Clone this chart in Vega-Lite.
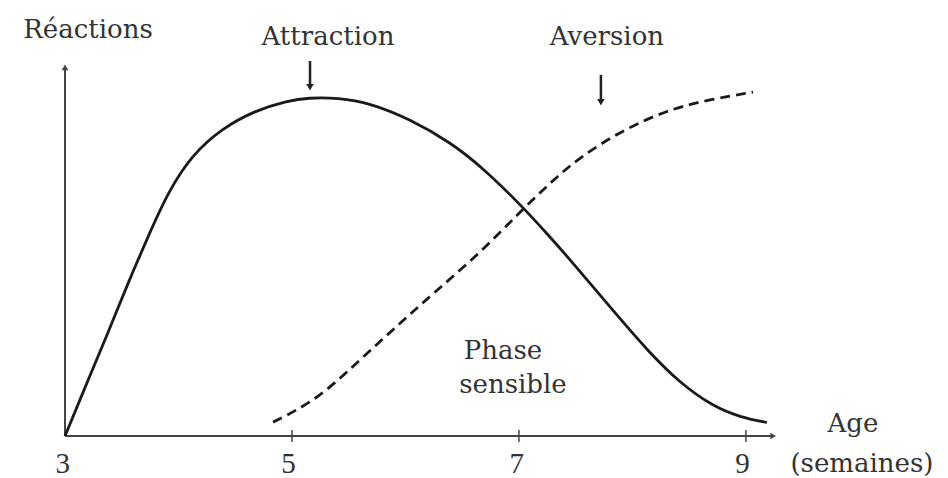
{
  "$schema": "https://vega.github.io/schema/vega-lite/v6.json",
  "width": 715,
  "height": 375,
  "autosize": {"type": "none"},
  "padding": {"left": 65, "top": 61, "right": 168, "bottom": 42},
  "background": "white",
  "config": {"view": {"stroke": null}},
  "datasets": {
    "curves": [
      {"s": "attraction", "x": 3.0, "y": 0},
      {"s": "attraction", "x": 3.203, "y": 14.9},
      {"s": "attraction", "x": 3.379, "y": 27.5},
      {"s": "attraction", "x": 3.555, "y": 40.8},
      {"s": "attraction", "x": 3.731, "y": 53.1},
      {"s": "attraction", "x": 3.907, "y": 65.0},
      {"s": "attraction", "x": 4.119, "y": 75.0},
      {"s": "attraction", "x": 4.383, "y": 82.0},
      {"s": "attraction", "x": 4.674, "y": 86.8},
      {"s": "attraction", "x": 4.965, "y": 89.4},
      {"s": "attraction", "x": 5.141, "y": 90.2},
      {"s": "attraction", "x": 5.405, "y": 90.2},
      {"s": "attraction", "x": 5.687, "y": 88.8},
      {"s": "attraction", "x": 6.04, "y": 84.5},
      {"s": "attraction", "x": 6.392, "y": 78.4},
      {"s": "attraction", "x": 6.683, "y": 71.5},
      {"s": "attraction", "x": 7.026, "y": 61.3},
      {"s": "attraction", "x": 7.273, "y": 53.1},
      {"s": "attraction", "x": 7.423, "y": 48.0},
      {"s": "attraction", "x": 7.802, "y": 34.4},
      {"s": "attraction", "x": 8.128, "y": 22.9},
      {"s": "attraction", "x": 8.419, "y": 14.1},
      {"s": "attraction", "x": 8.709, "y": 7.9},
      {"s": "attraction", "x": 8.95, "y": 5.0},
      {"s": "attraction", "x": 9.185, "y": 3.6},
      {"s": "aversion", "x": 4.833, "y": 3.7},
      {"s": "aversion", "x": 5.22, "y": 9.6},
      {"s": "aversion", "x": 5.599, "y": 20.3},
      {"s": "aversion", "x": 5.952, "y": 30.1},
      {"s": "aversion", "x": 6.278, "y": 38.9},
      {"s": "aversion", "x": 6.656, "y": 48.8},
      {"s": "aversion", "x": 6.982, "y": 58.9},
      {"s": "aversion", "x": 7.273, "y": 67.5},
      {"s": "aversion", "x": 7.537, "y": 74.4},
      {"s": "aversion", "x": 7.916, "y": 81.6},
      {"s": "aversion", "x": 8.304, "y": 86.9},
      {"s": "aversion", "x": 8.656, "y": 89.6},
      {"s": "aversion", "x": 9.062, "y": 91.7}
    ],
    "labels": [
      {"t": "Réactions", "x": 3.203, "y": 106.1},
      {"t": "Attraction", "x": 5.317, "y": 104.3},
      {"t": "Aversion", "x": 7.775, "y": 104.3},
      {"t": "Phase", "x": 6.859, "y": 20.5},
      {"t": "sensible", "x": 6.947, "y": 11.5},
      {"t": "Age", "x": 9.943, "y": 1.07},
      {"t": "(semaines)", "x": 10.022, "y": -9.6}
    ],
    "ticklabels": [
      {"t": "3", "x": 2.98, "y": -9.8},
      {"t": "5", "x": 4.97, "y": -9.8},
      {"t": "7", "x": 6.98, "y": -9.8},
      {"t": "9", "x": 8.97, "y": -9.8}
    ],
    "ticks": [
      {"x": 5, "y": 0},
      {"x": 7, "y": 0},
      {"x": 9, "y": 0}
    ],
    "axislines": [
      {"x": 3, "x2": 9.24, "y": 0, "y2": 0},
      {"x": 3, "x2": 3, "y": 0, "y2": 98.3}
    ],
    "axisheads": [
      {"x": 9.24, "y": 0, "shape": "triangle-right"},
      {"x": 3, "y": 98.3, "shape": "triangle-up"}
    ],
    "arrows": [
      {"x": 5.159, "y": 100, "y2": 93.5},
      {"x": 7.722, "y": 96.3, "y2": 89.5}
    ],
    "arrowheads": [
      {"x": 5.159, "y": 93.0},
      {"x": 7.722, "y": 89.0}
    ]
  },
  "layer": [
    {
      "data": {"name": "axislines"},
      "mark": {"type": "rule", "color": "#444", "strokeWidth": 2},
      "encoding": {
        "x": {"field": "x", "type": "quantitative", "scale": {"domain": [3, 9.3], "nice": false, "zero": false}, "axis": null},
        "x2": {"field": "x2"},
        "y": {"field": "y", "type": "quantitative", "scale": {"domain": [0, 100], "nice": false, "zero": false}, "axis": null},
        "y2": {"field": "y2"}
      }
    },
    {
      "data": {"name": "axisheads"},
      "mark": {"type": "point", "filled": true, "color": "#444", "size": 45, "opacity": 1},
      "encoding": {
        "x": {"field": "x", "type": "quantitative", "axis": null},
        "y": {"field": "y", "type": "quantitative", "axis": null},
        "shape": {"field": "shape", "type": "nominal", "scale": null, "legend": null}
      }
    },
    {
      "data": {"name": "ticks"},
      "mark": {"type": "tick", "orient": "vertical", "color": "#444", "size": 12, "thickness": 1.5, "opacity": 1},
      "encoding": {
        "x": {"field": "x", "type": "quantitative", "axis": null},
        "y": {"field": "y", "type": "quantitative", "axis": null}
      }
    },
    {
      "data": {"name": "curves"},
      "transform": [{"filter": "datum.s == 'attraction'"}],
      "mark": {"type": "line", "color": "#1a1a1a", "strokeWidth": 2.8, "interpolate": "basis"},
      "encoding": {
        "x": {"field": "x", "type": "quantitative", "axis": null},
        "y": {"field": "y", "type": "quantitative", "axis": null}
      }
    },
    {
      "data": {"name": "curves"},
      "transform": [{"filter": "datum.s == 'aversion'"}],
      "mark": {"type": "line", "color": "#1a1a1a", "strokeWidth": 2.8, "interpolate": "basis", "strokeDash": [10, 6]},
      "encoding": {
        "x": {"field": "x", "type": "quantitative", "axis": null},
        "y": {"field": "y", "type": "quantitative", "axis": null}
      }
    },
    {
      "data": {"name": "arrows"},
      "mark": {"type": "rule", "color": "#222", "strokeWidth": 2.5},
      "encoding": {
        "x": {"field": "x", "type": "quantitative", "axis": null},
        "y": {"field": "y", "type": "quantitative", "axis": null},
        "y2": {"field": "y2"}
      }
    },
    {
      "data": {"name": "arrowheads"},
      "mark": {"type": "point", "shape": "triangle-down", "filled": true, "color": "#222", "size": 55, "opacity": 1},
      "encoding": {
        "x": {"field": "x", "type": "quantitative", "axis": null},
        "y": {"field": "y", "type": "quantitative", "axis": null}
      }
    },
    {
      "data": {"name": "labels"},
      "mark": {"type": "text", "font": "DejaVu Serif", "fontSize": 26, "color": "#333", "align": "center", "baseline": "alphabetic"},
      "encoding": {
        "x": {"field": "x", "type": "quantitative", "axis": null},
        "y": {"field": "y", "type": "quantitative", "axis": null},
        "text": {"field": "t"}
      }
    },
    {
      "data": {"name": "ticklabels"},
      "mark": {"type": "text", "font": "Liberation Serif", "fontSize": 29, "color": "#333", "align": "center", "baseline": "alphabetic"},
      "encoding": {
        "x": {"field": "x", "type": "quantitative", "axis": null},
        "y": {"field": "y", "type": "quantitative", "axis": null},
        "text": {"field": "t"}
      }
    }
  ]
}
